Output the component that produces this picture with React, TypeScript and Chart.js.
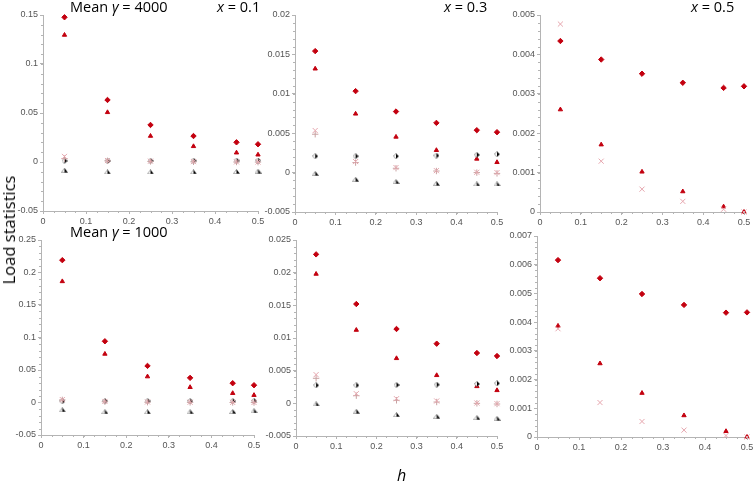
import React, { useEffect, useRef } from 'react';
import { Chart, registerables } from 'chart.js';

Chart.register(...registerables);

// h values shared by every panel
const hValues = [0.05, 0.15, 0.25, 0.35, 0.45, 0.5];
const xTicks = [0, 0.1, 0.2, 0.3, 0.4, 0.5];

// Mean gamma = 4000, x = 0.1
const yTicksA1 = [-0.05, 0, 0.05, 0.1, 0.15];
const a1RedDiamond = [0.1477, 0.0633, 0.0378, 0.0265, 0.0201, 0.0181];
const a1RedTriangle = [0.1296, 0.0507, 0.0265, 0.016, 0.0095, 0.0074];
const a1PinkCross = [0.0057, 0.0015, 0.0008, 0.0004, 0.0001, 0];
const a1PinkPlus = [0.0034, 0.0012, 0.0006, 0.0002, 0, -0.0001];
const a1BlackDiamond = [0.0012, 0.0012, 0.0012, 0.0013, 0.0014, 0.0015];
const a1BlackTriangle = [-0.0084, -0.0101, -0.0101, -0.0101, -0.0097, -0.0094];

// Mean gamma = 4000, x = 0.3
const yTicksA3 = [-0.005, 0, 0.005, 0.01, 0.015, 0.02];
const a3RedDiamond = [0.01542, 0.01034, 0.00775, 0.00631, 0.00538, 0.00513];
const a3RedTriangle = [0.01318, 0.00746, 0.00453, 0.00284, 0.00174, 0.00131];
const a3PinkCross = [0.00534, 0.0014, 0.00064, 0.00025, 0.00004, 0];
const a3PinkPlus = [0.00487, 0.00127, 0.00055, 0.0002, 0, -0.0001];
const a3BlackDiamond = [0.00208, 0.00208, 0.00208, 0.00216, 0.00225, 0.00233];
const a3BlackTriangle = [-0.0001, -0.00085, -0.00114, -0.00136, -0.00144, -0.00144];

// Mean gamma = 4000, x = 0.5
const yTicksA5 = [0, 0.001, 0.002, 0.003, 0.004, 0.005];
const a5RedDiamond = [0.00434, 0.00387, 0.00351, 0.00328, 0.00315, 0.00319];
const a5RedTriangle = [0.0026, 0.00171, 0.00102, 0.00052, 0.000135, 0];
const a5PinkCross = [0.00477, 0.00129, 0.00058, 0.00027, 0.00007, 0];

// Mean gamma = 1000, x = 0.1
const yTicksB1 = [-0.05, 0, 0.05, 0.1, 0.15, 0.2, 0.25];
const b1RedDiamond = [0.219, 0.0942, 0.0563, 0.0379, 0.0297, 0.0266];
const b1RedTriangle = [0.1863, 0.0747, 0.0399, 0.0235, 0.0143, 0.0113];
const b1PinkCross = [0.0045, 0.0016, 0.0008, 0.0004, 0.0001, 0];
const b1PinkPlus = [0.004, 0.0012, 0.0005, 0.0002, 0, -0.0001];
const b1BlackDiamond = [0.002, 0.0022, 0.0022, 0.0023, 0.0024, 0.0025];
const b1BlackTriangle = [-0.0113, -0.0143, -0.0143, -0.0143, -0.0138, -0.0128];

// Mean gamma = 1000, x = 0.3
const yTicksB3 = [-0.005, 0, 0.005, 0.01, 0.015, 0.02, 0.025];
const b3RedDiamond = [0.0228, 0.0152, 0.01138, 0.00913, 0.0077, 0.00724];
const b3RedTriangle = [0.0198, 0.01122, 0.00689, 0.00429, 0.0026, 0.00199];
const b3PinkCross = [0.00439, 0.00148, 0.00071, 0.00036, 0.00005, -0.00005];
const b3PinkPlus = [0.00383, 0.00117, 0.00046, 0.0002, 0, -0.0001];
const b3BlackDiamond = [0.00276, 0.00276, 0.00281, 0.00286, 0.00296, 0.00306];
const b3BlackTriangle = [-0.0001, -0.00122, -0.00173, -0.00199, -0.00219, -0.0023];

// Mean gamma = 1000, x = 0.5
const yTicksB5 = [0, 0.001, 0.002, 0.003, 0.004, 0.005, 0.006, 0.007];
const b5RedDiamond = [0.00616, 0.00553, 0.00498, 0.0046, 0.00433, 0.00434];
const b5RedTriangle = [0.00387, 0.00256, 0.00153, 0.00075, 0.0002, 0];
const b5PinkCross = [0.00377, 0.0012, 0.00054, 0.00024, 0.00005, 0];

const TICK_FONT = '"Liberation Sans", Arial, sans-serif';
const TEXT_FONT = '"Open Sans", sans-serif';
const AXIS_GREY = '#b4b4b4';

type Marker = 'redDiamond' | 'redTriangle' | 'pinkCross' | 'pinkPlus' | 'blackDiamond' | 'blackTriangle';
type Series = { marker: Marker; values: number[] };

function halfDiamond(): HTMLCanvasElement {
  const c = document.createElement('canvas');
  c.width = 6;
  c.height = 6;
  const ctx = c.getContext('2d')!;
  ctx.beginPath();
  ctx.moveTo(3, 0.4);
  ctx.lineTo(5.6, 3);
  ctx.lineTo(3, 5.6);
  ctx.lineTo(0.4, 3);
  ctx.closePath();
  ctx.fillStyle = '#fff';
  ctx.fill();
  ctx.strokeStyle = '#666';
  ctx.lineWidth = 0.7;
  ctx.stroke();
  ctx.beginPath();
  ctx.moveTo(3, 0.4);
  ctx.lineTo(5.6, 3);
  ctx.lineTo(3, 5.6);
  ctx.closePath();
  ctx.fillStyle = '#000';
  ctx.fill();
  return c;
}

function halfTriangle(): HTMLCanvasElement {
  const c = document.createElement('canvas');
  c.width = 7;
  c.height = 5;
  const ctx = c.getContext('2d')!;
  ctx.beginPath();
  ctx.moveTo(3.5, 0.4);
  ctx.lineTo(6.6, 4.6);
  ctx.lineTo(0.4, 4.6);
  ctx.closePath();
  ctx.fillStyle = '#fff';
  ctx.fill();
  ctx.strokeStyle = '#888';
  ctx.lineWidth = 0.7;
  ctx.stroke();
  ctx.beginPath();
  ctx.moveTo(3.5, 0.4);
  ctx.lineTo(6.6, 4.6);
  ctx.lineTo(3.5, 4.6);
  ctx.closePath();
  ctx.fillStyle = '#000';
  ctx.fill();
  return c;
}

function markerStyle(m: Marker) {
  switch (m) {
    case 'redDiamond':
      return { pointStyle: 'rectRot', pointRadius: 2.7, backgroundColor: '#c3000f', borderColor: '#c3000f', borderWidth: 1 };
    case 'redTriangle':
      return { pointStyle: 'triangle', pointRadius: 2.5, backgroundColor: '#c3000f', borderColor: '#c3000f', borderWidth: 1 };
    case 'pinkCross':
      return { pointStyle: 'crossRot', pointRadius: 3.6, backgroundColor: '#e6a6ae', borderColor: '#e6a6ae', borderWidth: 1 };
    case 'pinkPlus':
      return { pointStyle: 'cross', pointRadius: 3.2, backgroundColor: '#c9a2a2', borderColor: '#c9a2a2', borderWidth: 1 };
    case 'blackDiamond':
      return { pointStyle: halfDiamond(), pointRadius: 3, borderWidth: 0 };
    default:
      return { pointStyle: halfTriangle(), pointRadius: 3, borderWidth: 0 };
  }
}

const fmt = (v: number) => String(parseFloat(v.toPrecision(6)));

interface PanelProps {
  x0: number;
  x1: number;
  top: number;
  bottom: number;
  yTicks: number[];
  series: Series[];
}

const Y_AXIS_W = 42;
const X_AXIS_H = 20;
const PAD_TOP = 8;
const PAD_RIGHT = 10;

const Panel: React.FC<PanelProps> = ({ x0, x1, top, bottom, yTicks, series }) => {
  const canvasRef = useRef<HTMLCanvasElement | null>(null);
  const width = x1 - x0 + Y_AXIS_W + PAD_RIGHT;
  const height = bottom - top + PAD_TOP + X_AXIS_H;

  useEffect(() => {
    if (!canvasRef.current) return;
    const yMin = yTicks[0];
    const yMax = yTicks[yTicks.length - 1];
    const yMinor = (yTicks[1] - yTicks[0]) / 5;

    const minorTicks = {
      id: 'minorTicks',
      afterDraw(chart: Chart) {
        const { ctx, chartArea } = chart;
        const xs = chart.scales.x;
        const ys = chart.scales.y;
        ctx.save();
        ctx.strokeStyle = AXIS_GREY;
        ctx.lineWidth = 1;
        const nx = Math.round((0.5 - 0) / 0.025);
        for (let i = 0; i <= nx; i++) {
          const px = Math.round(xs.getPixelForValue(i * 0.025)) + 0.5;
          ctx.beginPath();
          ctx.moveTo(px, chartArea.bottom);
          ctx.lineTo(px, chartArea.bottom + 2);
          ctx.stroke();
        }
        const ny = Math.round((yMax - yMin) / yMinor);
        for (let i = 0; i <= ny; i++) {
          const py = Math.round(ys.getPixelForValue(yMin + i * yMinor)) + 0.5;
          ctx.beginPath();
          ctx.moveTo(chartArea.left - 2, py);
          ctx.lineTo(chartArea.left, py);
          ctx.stroke();
        }
        ctx.restore();
      },
    };

    const chart = new Chart(canvasRef.current, {
      type: 'scatter',
      data: {
        datasets: series.map((s) => ({
          data: s.values.map((v, i) => ({ x: hValues[i], y: v })),
          clip: false,
          ...markerStyle(s.marker),
        })) as any,
      },
      options: {
        animation: false,
        responsive: false,
        layout: { padding: { top: PAD_TOP, right: PAD_RIGHT, left: 0, bottom: 0 } },
        plugins: { legend: { display: false }, tooltip: { enabled: false } },
        scales: {
          x: {
            type: 'linear',
            min: 0,
            max: 0.5,
            afterBuildTicks: (s: any) => {
              s.ticks = xTicks.map((v) => ({ value: v }));
            },
            afterFit: (s: any) => {
              s.height = X_AXIS_H;
            },
            grid: { drawOnChartArea: false, tickLength: 3, color: AXIS_GREY },
            border: { color: AXIS_GREY },
            ticks: {
              autoSkip: false,
              maxRotation: 0,
              padding: 2,
              color: '#555',
              font: { family: TICK_FONT, size: 9 },
              callback: (v: any) => fmt(Number(v)),
            },
          },
          y: {
            type: 'linear',
            min: yMin,
            max: yMax,
            afterBuildTicks: (s: any) => {
              s.ticks = yTicks.map((v) => ({ value: v }));
            },
            afterFit: (s: any) => {
              s.width = Y_AXIS_W;
            },
            grid: { drawOnChartArea: false, tickLength: 3, color: AXIS_GREY },
            border: { color: AXIS_GREY },
            ticks: {
              autoSkip: false,
              padding: 2,
              color: '#555',
              font: { family: TICK_FONT, size: 9 },
              callback: (v: any) => fmt(Number(v)),
            },
          },
        },
      },
      plugins: [minorTicks],
    });

    return () => {
      chart.destroy();
    };
  }, [yTicks, series]);

  return (
    <canvas
      ref={canvasRef}
      width={width}
      height={height}
      style={{ position: 'absolute', left: x0 - Y_AXIS_W, top: top - PAD_TOP, width, height }}
    />
  );
};

const fullSeries = (rd: number[], rt: number[], pc: number[], pp: number[], bd: number[], bt: number[]): Series[] => [
  { marker: 'pinkCross', values: pc },
  { marker: 'pinkPlus', values: pp },
  { marker: 'blackTriangle', values: bt },
  { marker: 'blackDiamond', values: bd },
  { marker: 'redTriangle', values: rt },
  { marker: 'redDiamond', values: rd },
];

const shortSeries = (rd: number[], rt: number[], pc: number[]): Series[] => [
  { marker: 'pinkCross', values: pc },
  { marker: 'redTriangle', values: rt },
  { marker: 'redDiamond', values: rd },
];

const sA1 = fullSeries(a1RedDiamond, a1RedTriangle, a1PinkCross, a1PinkPlus, a1BlackDiamond, a1BlackTriangle);
const sA3 = fullSeries(a3RedDiamond, a3RedTriangle, a3PinkCross, a3PinkPlus, a3BlackDiamond, a3BlackTriangle);
const sA5 = shortSeries(a5RedDiamond, a5RedTriangle, a5PinkCross);
const sB1 = fullSeries(b1RedDiamond, b1RedTriangle, b1PinkCross, b1PinkPlus, b1BlackDiamond, b1BlackTriangle);
const sB3 = fullSeries(b3RedDiamond, b3RedTriangle, b3PinkCross, b3PinkPlus, b3BlackDiamond, b3BlackTriangle);
const sB5 = shortSeries(b5RedDiamond, b5RedTriangle, b5PinkCross);

const label: React.CSSProperties = {
  position: 'absolute',
  fontFamily: TEXT_FONT,
  fontSize: 14.5,
  lineHeight: '16px',
  color: '#000',
  whiteSpace: 'nowrap',
};

export default function App() {
  return (
    <div style={{ position: 'fixed', left: 0, top: 0, width: 754, height: 482, background: '#fff', overflow: 'hidden' }}>
      <Panel x0={43} x1={258} top={15} bottom={211} yTicks={yTicksA1} series={sA1} />
      <Panel x0={295} x1={497} top={15} bottom={212} yTicks={yTicksA3} series={sA3} />
      <Panel x0={540} x1={744} top={15} bottom={212} yTicks={yTicksA5} series={sA5} />
      <Panel x0={41} x1={254} top={240} bottom={435} yTicks={yTicksB1} series={sB1} />
      <Panel x0={296} x1={497} top={240} bottom={436} yTicks={yTicksB3} series={sB3} />
      <Panel x0={537} x1={747} top={236} bottom={437} yTicks={yTicksB5} series={sB5} />

      <div style={{ ...label, left: 70, top: -1 }}>
        Mean <i>γ</i> = 4000
      </div>
      <div style={{ ...label, left: 217, top: -1 }}>
        <i>x</i> = 0.1
      </div>
      <div style={{ ...label, left: 444, top: -1 }}>
        <i>x</i> = 0.3
      </div>
      <div style={{ ...label, left: 691, top: -1 }}>
        <i>x</i> = 0.5
      </div>
      <div style={{ ...label, left: 70, top: 224 }}>
        Mean <i>γ</i> = 1000
      </div>
      <div
        style={{
          ...label,
          left: 9,
          top: 230,
          fontSize: 16.5,
          transform: 'translate(-50%, -50%) rotate(-90deg)',
        }}
      >
        Load statistics
      </div>
      <div style={{ ...label, left: 397, top: 467, fontSize: 16, fontStyle: 'italic' }}>h</div>
    </div>
  );
}
